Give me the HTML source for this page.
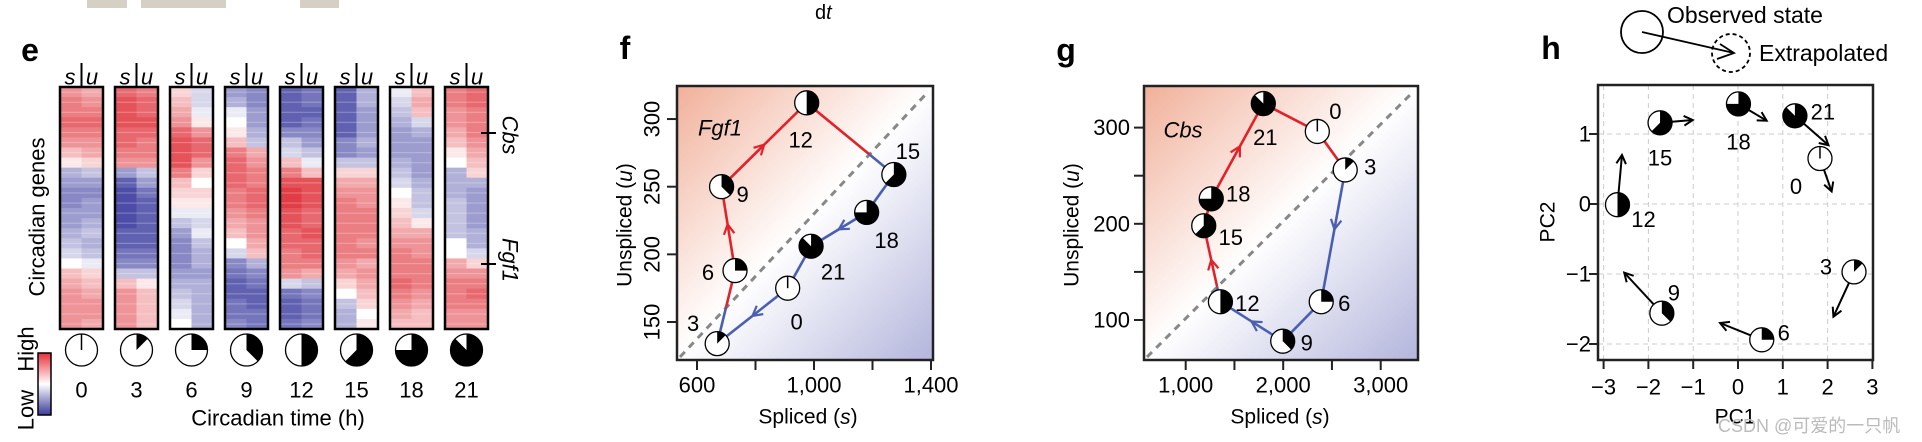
<!DOCTYPE html>
<html><head><meta charset="utf-8"><style>
html,body{margin:0;padding:0;background:#fff;}
svg{display:block;font-family:"Liberation Sans",Arial,sans-serif;}
</style></head><body>
<svg id="fig" width="1922" height="442" viewBox="0 0 1922 442" xmlns="http://www.w3.org/2000/svg">
<defs>
<linearGradient id="bgGrad" x1="0" y1="0" x2="1" y2="1">
<stop offset="0" stop-color="#f1b09a"/><stop offset="0.5" stop-color="#ffffff"/><stop offset="1" stop-color="#b3b5dc"/>
</linearGradient>
<linearGradient id="cbGrad" x1="0" y1="0" x2="0" y2="1">
<stop offset="0" stop-color="#e8303a"/><stop offset="0.5" stop-color="#ffffff"/><stop offset="1" stop-color="#3a3a9c"/>
</linearGradient>
<clipPath id="fUp"><polygon points="677,86 933,86 677,360"/></clipPath>
<clipPath id="fDn"><polygon points="933,86 933,360 677,360"/></clipPath>
<clipPath id="gUp"><polygon points="1144,86 1418,86 1144,360"/></clipPath>
<clipPath id="gDn"><polygon points="1418,86 1418,360 1144,360"/></clipPath>
</defs>
<g>
<rect x="87" y="0" width="40" height="8" fill="#d6cfc4"/>
<rect x="141" y="0" width="85" height="8" fill="#d6cfc4"/>
<rect x="300" y="0" width="39" height="8" fill="#d6cfc4"/>
<text x="815" y="19" font-size="20">d<tspan font-style="italic">t</tspan></text>
</g>
<g id="panelE"></g>
<g id="panelF"></g>
<g id="panelG"></g>
<g id="panelH"></g>
<text x="1718" y="432" font-size="18" fill="#bbb" font-family="Liberation Sans, Noto Sans CJK SC, sans-serif">CSDN @可爱的一只帆</text>
</svg>
<script>
// ---------- data ----------
const times = [0,3,6,9,12,15,18,21];
const heatS0 = [0.5,0.6,0.6,0.7,0.6,0.5,0.3,0.1,-0.4,-0.5,-0.6,-0.6,-0.5,-0.5,-0.4,-0.3,-0.2,0,0.3,0.4,0.5,0.5,0.5,0.5];
const heatU0 = [0.4,0.5,0.6,0.7,0.6,0.5,0.4,0.2,-0.3,-0.5,-0.6,-0.5,-0.5,-0.4,-0.3,-0.4,-0.3,-0.1,0.2,0.3,0.4,0.5,0.5,0.4];
const heatS3 = [0.7,0.8,0.8,0.8,0.7,0.7,0.6,0.5,-0.5,-0.8,-0.9,-0.9,-0.9,-0.9,-0.8,-0.8,-0.7,-0.6,-0.3,0.3,0.5,0.5,0.5,0.5];
const heatU3 = [0.6,0.7,0.7,0.8,0.7,0.6,0.6,0.5,-0.3,-0.5,-0.7,-0.8,-0.8,-0.8,-0.8,-0.8,-0.7,-0.6,-0.3,0.1,0.3,0.3,0.3,0.3];
const heatS6 = [0.2,0.3,0.4,0.5,0.7,0.8,0.8,0.8,0.6,0.3,0.2,0.1,-0.1,-0.3,-0.5,-0.6,-0.6,-0.6,-0.5,-0.4,-0.3,-0.2,-0.1,0];
const heatU6 = [-0.2,-0.2,-0.1,0.1,0.5,0.7,0.7,0.5,0.2,0,0.2,0.1,-0.1,-0.2,-0.1,-0.3,-0.4,-0.4,-0.5,-0.4,-0.4,-0.4,-0.4,-0.4];
const heatS9 = [-0.5,-0.4,-0.1,0,0.1,0.3,0.6,0.7,0.7,0.7,0.6,0.6,0.5,0.4,0.3,0,-0.2,-0.6,-0.7,-0.8,-0.8,-0.7,-0.7,-0.6];
const heatU9 = [-0.6,-0.6,-0.5,-0.5,-0.4,-0.3,0.4,0.5,0.6,0.6,0.7,0.7,0.6,0.5,0.5,0.4,0.3,-0.4,-0.6,-0.7,-0.8,-0.8,-0.7,-0.7];
const heatS12 = [-0.8,-0.8,-0.8,-0.8,-0.6,-0.3,-0.2,0.3,0.6,0.8,0.9,0.9,0.8,0.8,0.7,0.7,0.6,0.6,0.5,-0.2,-0.7,-0.8,-0.8,-0.7];
const heatU12 = [-0.7,-0.7,-0.8,-0.7,-0.6,-0.5,-0.3,-0.1,0.3,0.8,0.8,0.8,0.7,0.7,0.8,0.7,0.7,0.6,0.4,-0.3,-0.6,-0.7,-0.7,-0.6];
const heatS15 = [-0.8,-0.8,-0.8,-0.8,-0.8,-0.6,-0.6,-0.3,0.2,0.4,0.5,0.6,0.6,0.6,0.6,0.6,0.6,0.5,0.4,0.2,0,-0.3,-0.4,-0.4];
const heatU15 = [-0.4,-0.4,-0.5,-0.5,-0.5,-0.4,-0.5,-0.3,0.2,0.4,0.5,0.5,0.6,0.6,0.6,0.5,0.6,0.4,0.5,0.4,0.3,0.2,0,0.1];
const heatS18 = [-0.1,-0.2,-0.3,-0.4,-0.5,-0.5,-0.5,-0.4,-0.3,-0.2,0,0.1,0.2,0.3,0.4,0.5,0.6,0.6,0.6,0.7,0.6,0.5,0.4,0.3];
const heatU18 = [0.3,0.4,0.3,-0.2,-0.4,-0.5,-0.5,-0.5,-0.5,-0.4,-0.3,-0.3,-0.2,0.1,0.4,0.5,0.5,0.6,0.6,0.6,0.5,0.4,0.3,0.3];
const heatS21 = [0.6,0.6,0.5,0.5,0.4,0.3,0.1,0,-0.4,-0.4,-0.4,-0.3,-0.3,-0.3,-0.3,0,0,0.4,0.5,0.6,0.6,0.6,0.5,0.5];
const heatU21 = [0.7,0.7,0.6,0.6,0.6,0.5,0.4,0.3,0.2,-0.4,-0.5,-0.5,-0.5,-0.5,-0.4,-0.4,-0.2,0.2,0.5,0.6,0.7,0.6,0.5,0.5];
const fgfS = [910,669,730,684,975,1273,1180,990];
const fgfU = [175,134,188,250,312,259,231,206];
const fgfXTicks = [600,800,1000,1200,1400];
const fgfXLabels = ["600","","1,000","","1,400"];
const fgfYTicks = [150,200,250,300];
const cbsS = [2350,2636,2390,1995,1356,1185,1262,1796];
const cbsU = [296,256,119,78,119,198,226,325];
const cbsXTicks = [1000,1500,2000,2500,3000];
const cbsXLabels = ["1,000","","2,000","","3,000"];
const cbsYTicks = [100,150,200,250,300];
const cbsYLabels = ["100","","200","","300"];
const pc1 = [1.83,2.59,0.53,-1.70,-2.69,-1.74,0.01,1.27];
const pc2 = [0.65,-0.97,-1.94,-1.56,-0.01,1.16,1.43,1.26];
const pc1Ext = [2.09,2.13,-0.40,-2.54,-2.59,-1.01,0.64,2.02];
const pc2Ext = [0.18,-1.61,-1.70,-0.98,0.70,1.20,1.19,0.84];
const pcTicks = [-3,-2,-1,0,1,2,3];
const pcYTicks = [-2,-1,0,1];

const fLab = [[9,34],[-24,-20],[-27,2],[21,8],[-6,37],[14,-23],[20,28],[22,26]];
const gLab = [[18,-20],[25,-3],[23,2],[24,2],[27,2],[27,12],[27,-5],[2,34]];
const hLab = [[-24,28],[-28,-5],[22,-7],[12,-20],[26,15],[0,35],[0,38],[28,-4]];

const NS = "http://www.w3.org/2000/svg";
function mk(tag, attrs, parent){const e=document.createElementNS(NS,tag);for(const k in attrs)e.setAttribute(k,attrs[k]);if(parent)parent.appendChild(e);return e;}
function txt(parent,x,y,s,size,extra){const t=mk("text",Object.assign({x:x,y:y,"font-size":size,"text-anchor":"middle","dominant-baseline":"central"},extra||{}),parent);t.textContent=s;return t;}

function pie(parent,cx,cy,r,t,name){
  const g=mk("g",{},parent);
  
  
  mk("circle",{cx:cx,cy:cy,r:r,fill:"#fff",stroke:"#000","stroke-width":1.3},g);
  if(t===0){mk("line",{x1:cx,y1:cy,x2:cx,y2:cy-r,stroke:"#000","stroke-width":1.5},g);}
  else{
    const a=t/24*2*Math.PI, ex=cx+r*Math.sin(a), ey=cy-r*Math.cos(a);
    mk("path",{d:`M${cx},${cy} L${cx},${cy-r} A${r},${r} 0 ${a>Math.PI?1:0} 1 ${ex},${ey} Z`,fill:"#000"},g);
  }
  return g;
}
function heatColor(v){
  v=Math.max(-1,Math.min(1,v));
  if(v>=0){const r=255-(255-222)*v,g=255-(255-40)*v,b=255-(255-48)*v;return `rgb(${r|0},${g|0},${b|0})`;}
  const a=-v;const r=255-(255-58)*a,g=255-(255-58)*a,b=255-(255-158)*a;return `rgb(${r|0},${g|0},${b|0})`;
}
function chevron(parent,x1,y1,x2,y2,p,color){
  const x=x1+(x2-x1)*p,y=y1+(y2-y1)*p,ang=Math.atan2(y2-y1,x2-x1),L=11,w=0.5;
  mk("path",{d:`M${x-L*Math.cos(ang-w)},${y-L*Math.sin(ang-w)} L${x},${y} L${x-L*Math.cos(ang+w)},${y-L*Math.sin(ang+w)}`,fill:"none",stroke:color,"stroke-width":2.2},parent);
}

(function(){
  const P=document.getElementById("panelE");
  const cols=[[heatS0,heatU0],[heatS3,heatU3],[heatS6,heatU6],[heatS9,heatU9],[heatS12,heatU12],[heatS15,heatU15],[heatS18,heatU18],[heatS21,heatU21]];
  const top=87,bot=329,h=bot-top;
  txt(P,30,50,"e",32,{"font-weight":"bold"});
  cols.forEach((c,i)=>{
    const x0=60+i*55;
    const g=mk("g",{},P);
    
    
    c.forEach((arr,j)=>{
      const bh=h/arr.length;
      arr.forEach((v,k)=>{
        mk("rect",{x:x0+j*21.5,y:top+k*bh,width:21.6,height:bh+0.4,fill:heatColor(v)},g);
        mk("rect",{x:x0+j*21.5,y:top+k*bh+bh*0.45,width:21.6,height:1.2,fill:"#fff",opacity:0.25},g);
      });
    });
    mk("rect",{x:x0,y:top,width:43,height:h,fill:"none",stroke:"#000","stroke-width":2.5},g);
    mk("line",{x1:x0+21.5,y1:63,x2:x0+21.5,y2:87,stroke:"#000","stroke-width":2},g);
    txt(g,x0+10,77,"s",22,{"font-style":"italic"});
    txt(g,x0+32,77,"u",22,{"font-style":"italic"});
    pie(P,x0+21.5,350,16,times[i],"clock-t"+times[i]);
    const l=txt(P,x0+21.5,390,String(times[i]),22);
    
    
  });
  txt(P,278,418,"Circadian time (h)",22);
  txt(P,37,217,"Circadian genes",22,{transform:"rotate(-90 37 217)"});
  mk("line",{x1:481,y1:133,x2:496,y2:133,stroke:"#000","stroke-width":2},P);
  mk("line",{x1:481,y1:264,x2:496,y2:264,stroke:"#000","stroke-width":2},P);
  txt(P,510,135,"Cbs",22,{"font-style":"italic",transform:"rotate(90 510 135)"});
  txt(P,510,260,"Fgf1",22,{"font-style":"italic",transform:"rotate(90 510 260)"});
  const cb=mk("rect",{x:38,y:353,width:13,height:62,fill:"url(#cbGrad)",stroke:"#000","stroke-width":1.5},P);
  
  
  txt(P,26,349,"High",22,{transform:"rotate(-90 26 349)"});
  txt(P,26,410,"Low",22,{transform:"rotate(-90 26 410)"});
})();

function trajPanel(P,cfg){
  const {box,sx,sy,S,U,lab,up,dn,arrows}=cfg;
  const [L,T,R,B]=box;
  const bg=mk("rect",{x:L,y:T,width:R-L,height:B-T,fill:"url(#bgGrad)"},P);
  
  
  mk("line",{x1:L+3,y1:B-3,x2:R-6,y2:T+7,stroke:"#888","stroke-width":3,"stroke-dasharray":"7,6"},P);
  const pts=S.map((s,i)=>[sx(s),sy(U[i])]);
  const d="M"+pts.map(p=>p.join(",")).join(" L")+" Z";
  const r=mk("path",{d:d,fill:"none",stroke:"#e2222b","stroke-width":2.6,"clip-path":`url(#${up})`},P);
  
  const b=mk("path",{d:d,fill:"none",stroke:"#4a5fb0","stroke-width":2.6,"clip-path":`url(#${dn})`},P);
  
  arrows.forEach(a=>{const p1=pts[a[0]],p2=pts[(a[0]+1)%pts.length];chevron(P,p1[0],p1[1],p2[0],p2[1],a[1],a[2]);});
  mk("rect",{x:L,y:T,width:R-L,height:B-T,fill:"none",stroke:"#222","stroke-width":2.5},P);
  pts.forEach((p,i)=>{
    pie(P,p[0],p[1],12,times[i],"point-t"+times[i]);
    txt(P,p[0]+lab[i][0],p[1]+lab[i][1],String(times[i]),22);
  });
}

(function(){
  const P=document.getElementById("panelF");
  const sx=s=>697+(s-600)*0.2925, sy=u=>322-(u-150)*1.353;
  txt(P,625,48,"f",32,{"font-weight":"bold"});
  trajPanel(P,{box:[677,86,933,360],sx,sy,S:fgfS,U:fgfU,lab:fLab,up:"fUp",dn:"fDn",
    arrows:[[2,0.55,"#e2222b"],[3,0.5,"#e2222b"],[6,0.5,"#4a5fb0"],[0,0.5,"#4a5fb0"]]});
  fgfXTicks.forEach((t,i)=>{const x=sx(t);mk("line",{x1:x,y1:360,x2:x,y2:370,stroke:"#222","stroke-width":2},P);
    if(fgfXLabels[i])txt(P,x,385,fgfXLabels[i],22);});
  fgfYTicks.forEach(t=>{const y=sy(t);mk("line",{x1:667,y1:y,x2:677,y2:y,stroke:"#222","stroke-width":2},P);
    txt(P,652,y,String(t),22,{transform:`rotate(-90 652 ${y})`});});
  txt(P,720,128,"Fgf1",22,{"font-style":"italic"});
  txt(P,808,417,"Spliced (s)",21).innerHTML='Spliced (<tspan font-style="italic">s</tspan>)';
  const yl=txt(P,625,225,"",21,{transform:"rotate(-90 625 225)"});yl.innerHTML='Unspliced (<tspan font-style="italic">u</tspan>)';
})();

(function(){
  const P=document.getElementById("panelG");
  const sx=s=>1185.7+(s-1000)*0.0975, sy=u=>320-(u-100)*0.962;
  txt(P,1066,50,"g",32,{"font-weight":"bold"});
  trajPanel(P,{box:[1144,86,1418,360],sx,sy,S:cbsS,U:cbsU,lab:gLab,up:"gUp",dn:"gDn",
    arrows:[[4,0.55,"#e2222b"],[6,0.55,"#e2222b"],[1,0.45,"#4a5fb0"],[3,0.5,"#4a5fb0"]]});
  cbsXTicks.forEach((t,i)=>{const x=sx(t);mk("line",{x1:x,y1:360,x2:x,y2:370,stroke:"#222","stroke-width":2},P);
    if(cbsXLabels[i])txt(P,x,385,cbsXLabels[i],22);});
  cbsYTicks.forEach((t,i)=>{const y=sy(t);mk("line",{x1:1134,y1:y,x2:1144,y2:y,stroke:"#222","stroke-width":2},P);
    if(cbsYLabels[i])txt(P,1130,y,cbsYLabels[i],22,{"text-anchor":"end"});});
  txt(P,1183,130,"Cbs",22,{"font-style":"italic"});
  txt(P,1280,417,"",21).innerHTML='Spliced (<tspan font-style="italic">s</tspan>)';
  const yl=txt(P,1072,225,"",21,{transform:"rotate(-90 1072 225)"});yl.innerHTML='Unspliced (<tspan font-style="italic">u</tspan>)';
})();

(function(){
  const P=document.getElementById("panelH");
  const sx=x=>1738+x*44.8, sy=y=>204-y*70;
  const L=1598,T=85,R=1873,B=360;
  txt(P,1551,48,"h",32,{"font-weight":"bold"});
  mk("circle",{cx:1642,cy:32,r:21,fill:"none",stroke:"#000","stroke-width":1.8},P);
  mk("circle",{cx:1731,cy:53,r:19,fill:"none",stroke:"#000","stroke-width":1.8,"stroke-dasharray":"4,3"},P);
  mk("line",{x1:1642,y1:32,x2:1734,y2:53,stroke:"#000","stroke-width":1.8},P);
  mk("path",{d:"M1720,44 L1734,53 L1717,59",fill:"none",stroke:"#000","stroke-width":1.8},P);
  txt(P,1667,15,"Observed state",23,{"text-anchor":"start"});
  txt(P,1759,53,"Extrapolated",23,{"text-anchor":"start"});
  pcTicks.forEach(t=>{const x=sx(t);mk("line",{x1:x,y1:T,x2:x,y2:B,stroke:"#ccc","stroke-width":1,"stroke-dasharray":"5,4"},P);});
  pcYTicks.forEach(t=>{const y=sy(t);mk("line",{x1:L,y1:y,x2:R,y2:y,stroke:"#ccc","stroke-width":1,"stroke-dasharray":"5,4"},P);});
  mk("rect",{x:L,y:T,width:R-L,height:B-T,fill:"none",stroke:"#222","stroke-width":2.5},P);
  pcTicks.forEach(t=>{const x=sx(t);mk("line",{x1:x,y1:B,x2:x,y2:B+9,stroke:"#222","stroke-width":2},P);
    txt(P,x,387,t<0?"\u2212"+(-t):String(t),22);});
  pcYTicks.forEach(t=>{const y=sy(t);mk("line",{x1:L-9,y1:y,x2:L,y2:y,stroke:"#222","stroke-width":2},P);
    txt(P,1591,y,t<0?"\u2212"+(-t):String(t),22,{"text-anchor":"end"});});
  pc1.forEach((v,i)=>{
    const x1=sx(v),y1=sy(pc2[i]),x2=sx(pc1Ext[i]),y2=sy(pc2Ext[i]);
    const ar=mk("g",{},P);
    
    
    mk("line",{x1:x1,y1:y1,x2:x2,y2:y2,stroke:"#000","stroke-width":2},ar);
    const ang=Math.atan2(y2-y1,x2-x1),Lh=10,w=0.5;
    mk("path",{d:`M${x2-Lh*Math.cos(ang-w)},${y2-Lh*Math.sin(ang-w)} L${x2},${y2} L${x2-Lh*Math.cos(ang+w)},${y2-Lh*Math.sin(ang+w)}`,fill:"none",stroke:"#000","stroke-width":2},ar);
  });
  pc1.forEach((v,i)=>{
    const x=sx(v),y=sy(pc2[i]);
    pie(P,x,y,12,times[i],"pca-point-t"+times[i]);
    txt(P,x+hLab[i][0],y+hLab[i][1],String(times[i]),22);
  });
  txt(P,1735,417,"PC1",21);
  txt(P,1548,222,"PC2",21,{transform:"rotate(-90 1548 222)"});
})();
</script>
</body></html>
